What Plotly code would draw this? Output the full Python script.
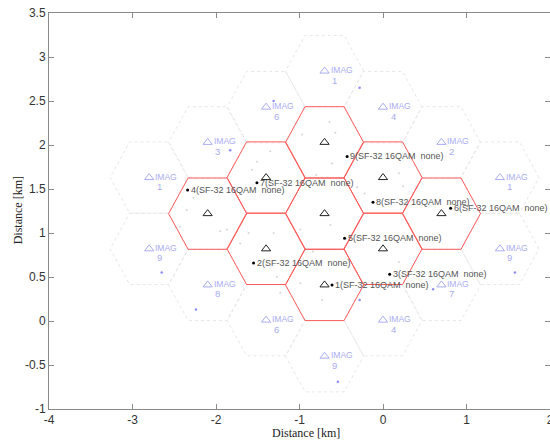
import numpy as np
import plotly.graph_objects as go

# ---------------- data (km) ----------------
# serving cells (red hexagons, black BS triangles)
cell_x = [-0.70, -0.70, 0.00, 0.00, -0.70, -1.40, -1.40, -2.10, 0.70]
cell_y = [1.22, 2.03, 1.63, 0.82, 0.41, 0.82, 1.63, 1.22, 1.22]

# wrap-around image cells (dotted hexagons, blue labels)
imag_x = [-0.70, 0.00, 0.70, 1.40, 1.40, 0.70, 0.00, -0.70, -1.40, -2.10, -2.80, -2.80, -2.10, -1.40]
imag_y = [2.84, 2.43, 2.03, 1.63, 0.82, 0.41, 0.01, -0.40, 0.01, 0.41, 0.82, 1.63, 2.03, 2.43]
imag_id = ["1", "4", "2", "1", "9", "7", "4", "9", "6", "8", "9", "1", "3", "6"]

# users
user_id = ["1", "2", "3", "4", "5", "6", "7", "8", "9"]
user_x = [-0.61, -1.55, 0.08, -2.34, -0.46, 0.81, -1.51, -0.12, -0.43]
user_y = [0.41, 0.66, 0.53, 1.49, 0.94, 1.28, 1.57, 1.35, 1.87]
user_cfg = ["SF-32 16QAM\u00a0 none"] * 9

# image users (small blue dots)
img_ue_x = [-2.65, -2.24, -0.28, -0.54, 1.58, -1.83, -0.28, 0.60, -1.31]
img_ue_y = [0.55, 0.13, 2.65, -0.69, 0.55, 1.94, 0.24, 0.36, 2.50]

# faint background points
bg_x = [-1.51, -1.35, -1.57, -2.27, -2.35, -0.97, -0.64, -0.57, -0.61, -0.80, 0.19, 0.24,
        -0.31, -0.22, -0.99, -2.43, -1.95, -1.71, -1.61, -1.31, -1.27, -1.23, -1.87, -0.99,
        -0.84, -0.63, 0.19, -0.73, -0.99]
bg_y = [1.81, 1.93, 1.72, 1.40, 1.26, 2.12, 2.26, 2.14, 1.79, 1.66, 1.68, 1.53,
        1.52, 1.45, 1.57, 1.07, 1.02, 0.88, 1.00, 1.00, 0.50, 0.32, 1.04, 1.04,
        0.79, 1.09, 0.67, 0.24, 0.43]

x_ticks = [-4, -3, -2, -1, 0, 1, 2]
y_ticks = [-1, -0.5, 0, 0.5, 1, 1.5, 2, 2.5, 3, 3.5]

R = 0.468  # hexagon circumradius (km)


def hex_path(xs, ys, r):
    px, py = [], []
    ang = np.deg2rad(np.arange(0, 420, 60))
    for cx, cy in zip(xs, ys):
        px += list(cx + r * np.cos(ang)) + [None]
        py += list(cy + r * np.sin(ang)) + [None]
    return px, py


fig = go.Figure()

# image cell outlines
hx, hy = hex_path(imag_x, imag_y, R)
fig.add_trace(go.Scatter(x=hx, y=hy, mode="lines", hoverinfo="skip",
                         line=dict(color="#e6e6e6", width=1, dash="dot")))

# serving cell outlines
hx, hy = hex_path(cell_x, cell_y, R)
fig.add_trace(go.Scatter(x=hx, y=hy, mode="lines", hoverinfo="skip",
                         line=dict(color="#ff5a5a", width=1)))

# faint points
fig.add_trace(go.Scatter(x=bg_x, y=bg_y, mode="markers",
                         marker=dict(color="#d4d4d4", size=2)))

# image users
fig.add_trace(go.Scatter(x=img_ue_x, y=img_ue_y, mode="markers",
                         marker=dict(color="#8c8cf0", size=2.5)))

# image BS triangles + labels
blue = "#a9acf2"
fig.add_trace(go.Scatter(x=imag_x, y=imag_y, mode="markers",
                         marker=dict(symbol="triangle-up-open", size=8, color=blue,
                                     line=dict(width=1, color=blue))))
for x, y, lab in zip(imag_x, imag_y, imag_id):
    fig.add_annotation(x=x, y=y, text="IMAG", showarrow=False, xanchor="left",
                       yanchor="middle", xshift=4, yshift=1,
                       font=dict(family="Arial", size=8.5, color=blue))
    fig.add_annotation(x=x, y=y, text=lab, showarrow=False, xanchor="center",
                       yanchor="middle", xshift=10, yshift=-9,
                       font=dict(family="Arial", size=9.5, color=blue))

# serving BS triangles
fig.add_trace(go.Scatter(x=cell_x, y=cell_y, mode="markers",
                         marker=dict(symbol="triangle-up-open", size=8, color="#222",
                                     line=dict(width=1, color="#222"))))

# users
fig.add_trace(go.Scatter(x=user_x, y=user_y, mode="markers",
                         marker=dict(color="black", size=3)))
for x, y, i, c in zip(user_x, user_y, user_id, user_cfg):
    fig.add_annotation(x=x, y=y, text=f"{i}({c})", showarrow=False, xanchor="left",
                       yanchor="middle", xshift=1,
                       font=dict(family="Arial", size=9, color="#555"))

# axis titles
fig.add_annotation(x=0.513, y=-0.061, xref="paper", yref="paper", text="Distance [km]",
                   showarrow=False, xanchor="center", yanchor="middle",
                   font=dict(family="Liberation Serif", size=12, color="#222"))
fig.add_annotation(x=-0.0613, y=0.5025, xref="paper", yref="paper", text="Distance [km]",
                   showarrow=False, textangle=-90, xanchor="center", yanchor="middle",
                   font=dict(family="Liberation Serif", size=12, color="#222"))

axis_common = dict(showgrid=False, zeroline=False, showline=True, linecolor="#8a8a8a",
                   linewidth=1, mirror="ticks", ticks="inside", ticklen=5,
                   tickcolor="#8a8a8a", ticklabeloverflow="allow", automargin=False,
                   tickfont=dict(family="Arial", size=12, color="#333"))
fig.update_xaxes(range=[-4, 2], tickvals=x_ticks, ticktext=[str(v) for v in x_ticks],
                 **axis_common)
fig.update_yaxes(range=[-1, 3.5], tickvals=y_ticks,
                 ticktext=[("%g" % v) for v in y_ticks], **axis_common)

fig.update_layout(width=550, height=441, showlegend=False,
                  margin=dict(l=49, r=0, t=13, b=32, autoexpand=False),
                  plot_bgcolor="white", paper_bgcolor="white")

fig.write_html("out.html", config={"displayModeBar": False},
               post_script="document.body.style.margin='0';document.body.style.overflow='hidden';")
